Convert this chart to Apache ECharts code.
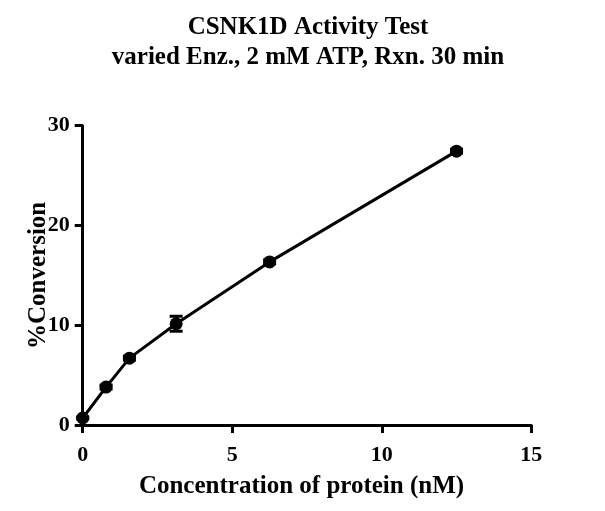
<!DOCTYPE html>
<html>
<head>
<meta charset="utf-8">
<script src="https://cdn.jsdelivr.net/npm/echarts@6/dist/echarts.min.js"></script>
<style>html,body{margin:0;padding:0;background:#fff}#c{width:605px;height:511px}</style>
</head>
<body>
<div id="c"></div>
<script>
const concentration = [0, 0.78125, 1.5625, 3.125, 6.25, 12.5];
const conversion = [0.7, 3.8, 6.7, 10.15, 16.35, 27.45];
const errorSD = [0.1, 0.2, 0.2, 0.75, 0.2, 0.2];
const xTicks = [0, 5, 10, 15];
const yTicks = [0, 10, 20, 30];
const titleLines = ['CSNK1D Activity Test', 'varied Enz., 2 mM ATP, Rxn. 30 min'];
const xName = 'Concentration of protein (nM)';
const yName = '%Conversion';

const font = 'Liberation Serif';
const points = concentration.map((x, i) => [x, conversion[i]]);
const errData = concentration.map((x, i) => [x, conversion[i] - errorSD[i], conversion[i] + errorSD[i]]);

const chart = echarts.init(document.getElementById('c'));
chart.setOption({
  animation: false,
  backgroundColor: '#fff',
  title: {
    text: titleLines.join('\n'),
    left: 303, textAlign: 'center', top: 8,
    textStyle: { fontFamily: font, fontWeight: 'bold', fontSize: 25, lineHeight: 30, color: '#000' }
  },
  grid: { left: 82.7, right: 605 - 531.3, top: 125.7, bottom: 511 - 425, containLabel: false },
  xAxis: {
    type: 'value', min: xTicks[0], max: xTicks[xTicks.length - 1], interval: 5,
    name: xName, nameLocation: 'middle', nameGap: 49, nameMoveOverlap: false,
    nameTextStyle: { fontFamily: font, fontWeight: 'bold', fontSize: 25, color: '#000', padding: [0, 11, 0, 0] },
    axisLine: { show: true, onZero: false, lineStyle: { color: '#000', width: 3 } },
    axisTick: { show: true, length: 8, lineStyle: { color: '#000', width: 3 } },
    axisLabel: { fontFamily: font, fontWeight: 'bold', fontSize: 22, color: '#000', margin: 19 },
    splitLine: { show: false }
  },
  yAxis: {
    type: 'value', min: yTicks[0], max: yTicks[yTicks.length - 1], interval: 10,
    name: yName, nameLocation: 'middle', nameGap: 32, nameMoveOverlap: false,
    nameTextStyle: { fontFamily: font, fontWeight: 'bold', fontSize: 25, color: '#000' },
    axisLine: { show: true, onZero: false, lineStyle: { color: '#000', width: 3 } },
    axisTick: { show: true, length: 8, lineStyle: { color: '#000', width: 3 } },
    axisLabel: { fontFamily: font, fontWeight: 'bold', fontSize: 22, color: '#000', margin: 13 },
    splitLine: { show: false }
  },
  series: [
    {
      type: 'line', data: points, symbol: 'circle', symbolSize: 13,
      lineStyle: { color: '#000', width: 3 },
      itemStyle: { color: '#000', borderWidth: 0 },
      z: 3
    },
    {
      type: 'custom', data: errData, z: 4,
      renderItem: function (params, api) {
        const x = api.value(0);
        const lo = api.coord([x, api.value(1)]);
        const hi = api.coord([x, api.value(2)]);
        const hw = 6.5;
        const st = { stroke: '#000', lineWidth: 3 };
        return {
          type: 'group', children: [
            { type: 'line', shape: { x1: lo[0], y1: lo[1], x2: hi[0], y2: hi[1] }, style: st },
            { type: 'line', shape: { x1: lo[0] - hw, y1: lo[1], x2: lo[0] + hw, y2: lo[1] }, style: st },
            { type: 'line', shape: { x1: hi[0] - hw, y1: hi[1], x2: hi[0] + hw, y2: hi[1] }, style: st }
          ]
        };
      }
    }
  ]
});
</script>
</body>
</html>
